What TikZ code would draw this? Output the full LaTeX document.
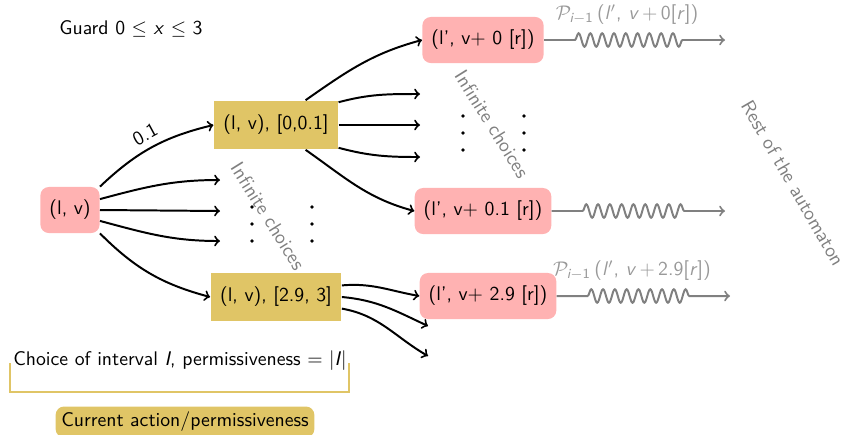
\documentclass[tikz,border=0pt]{standalone}
\usepackage{amsmath}
\usetikzlibrary{decorations.pathmorphing}
\definecolor{statepink}{RGB}{255,178,178}
\definecolor{actiongold}{RGB}{224,197,102}
\newcommand{\mv}[1]{\textit{#1}}
\tikzset{
  every picture/.style={font=\sffamily},
  lstate/.style={fill=statepink,rounded corners=0.15cm,inner sep=0.16cm,minimum height=0.82cm},
  laction/.style={fill=actiongold,inner sep=0.17cm,minimum height=0.87cm},
  choice/.style={->,black,line width=1pt},
  rest/.style={->,gray,line width=1pt,decorate,
    decoration={snake,amplitude=0.12cm,segment length=0.21cm,pre length=0.55cm,post length=0.71cm}},
  remark/.style={gray,font=\sffamily}}

\begin{document}
\begin{tikzpicture}[x=0.0178cm,y=-0.0178cm]
  \useasboundingbox (0,0) rectangle (845,434);
  \node (guard) at (131,29) {Guard 0 $\leq$ \mv{x} $\leq$ 3};
  \node [lstate] (lv) at (70,210) {(l, v)};
  \node [laction] (a1) at (276,125) {(l, v), [0,0.1]};
  \node [laction] (a2) at (276,297) {(l, v), [2.9, 3]};
  \node [lstate] (t1) at (483,40) {(l', v+ 0 [r])};
  \node [lstate] (t2) at (483,211) {(l', v+ 0.1 [r])};
  \node [lstate] (t3) at (488,296) {(l', v+ 2.9 [r])};
  % free ends
  \coordinate (c1) at (220,180);
  \coordinate (c2) at (220,211);
  \coordinate (c3) at (220,241);
  \coordinate (d1) at (420,94);
  \coordinate (d2) at (420,125);
  \coordinate (d3) at (420,157);
  \coordinate (e1) at (428,326);
  \coordinate (e2) at (428,356);
  \coordinate (f1) at (725,40);
  \coordinate (f2) at (725,211);
  \coordinate (f3) at (730,296);
  % first choice: the interval
  \draw [choice] (lv.north east) to [bend left=15] node [sloped,above] {0.1} (a1.west);
  \draw [choice] (lv.20) to [out=15,in=180] (c1);
  \draw [choice] (lv.east) -- (c2);
  \draw [choice] (lv.-20) to [out=-15,in=180] (c3);
  \draw [choice] (lv.south east) to [bend right=15] (a2.west);
  % second choice: the delay
  \draw [choice] (a1.40) to [out=35,in=195] (t1.west);
  \draw [choice] (a1.20) to [out=15,in=180] (d1);
  \draw [choice] (a1.east) -- (d2);
  \draw [choice] (a1.-20) to [out=-15,in=180] (d3);
  \draw [choice] (a1.-40) to [out=-35,in=165] (t2.west);
  \draw [choice] (a2.10) to [out=5,in=170] (t3.west);
  \draw [choice] (a2.east) to [out=-5,in=155] (e1);
  \draw [choice] (a2.-10) to [out=-10,in=150] (e2);
  % dots
  \foreach \x in {252,312}
    \foreach \y in {207,224,241}
      \fill (\x,\y) circle (1.8);
  \foreach \x in {463,524}
    \foreach \y in {116,133,150}
      \fill (\x,\y) circle (1.8);
  \node [remark,rotate=-58] (inf1) at (268,216) {Infinite choices};
  \node [remark,rotate=-58] (inf2) at (492,124) {Infinite choices};
  % rest of the automaton
  \draw [rest] (t1.east) -- (f1);
  \draw [rest] (t2.east) -- (f2);
  \draw [rest] (t3.east) -- (f3);
  \node [remark,text=gray!80] (p1) at (627,15)
    {$\mathcal{P}_{\mv{i}-\textsf{1}}$\,(\mv{l}$'$, \mv{v}\,$+$\,0[\mv{r}])};
  \node [remark,text=gray!80] (p3) at (632,271)
    {$\mathcal{P}_{\mv{i}-\textsf{1}}$\,(\mv{l}$'$, \mv{v}\,$+$\,2.9[\mv{r}])};
  \node [remark,rotate=-60] (restaut) at (793,183) {Rest of the automaton};
  % legend
  \node (interval) at (180,361) {Choice of interval \mv{I}, permissiveness $=$ $|$\mv{I}$|$};
  \draw [actiongold,line width=1.2pt] (10,363) -- (10,392) -- (349,392) -- (349,363);
  \node [fill=actiongold,rounded corners=0.15cm,inner sep=0.1cm] (legend) at (185,422) {Current action/permissiveness};
\end{tikzpicture}
\end{document}
